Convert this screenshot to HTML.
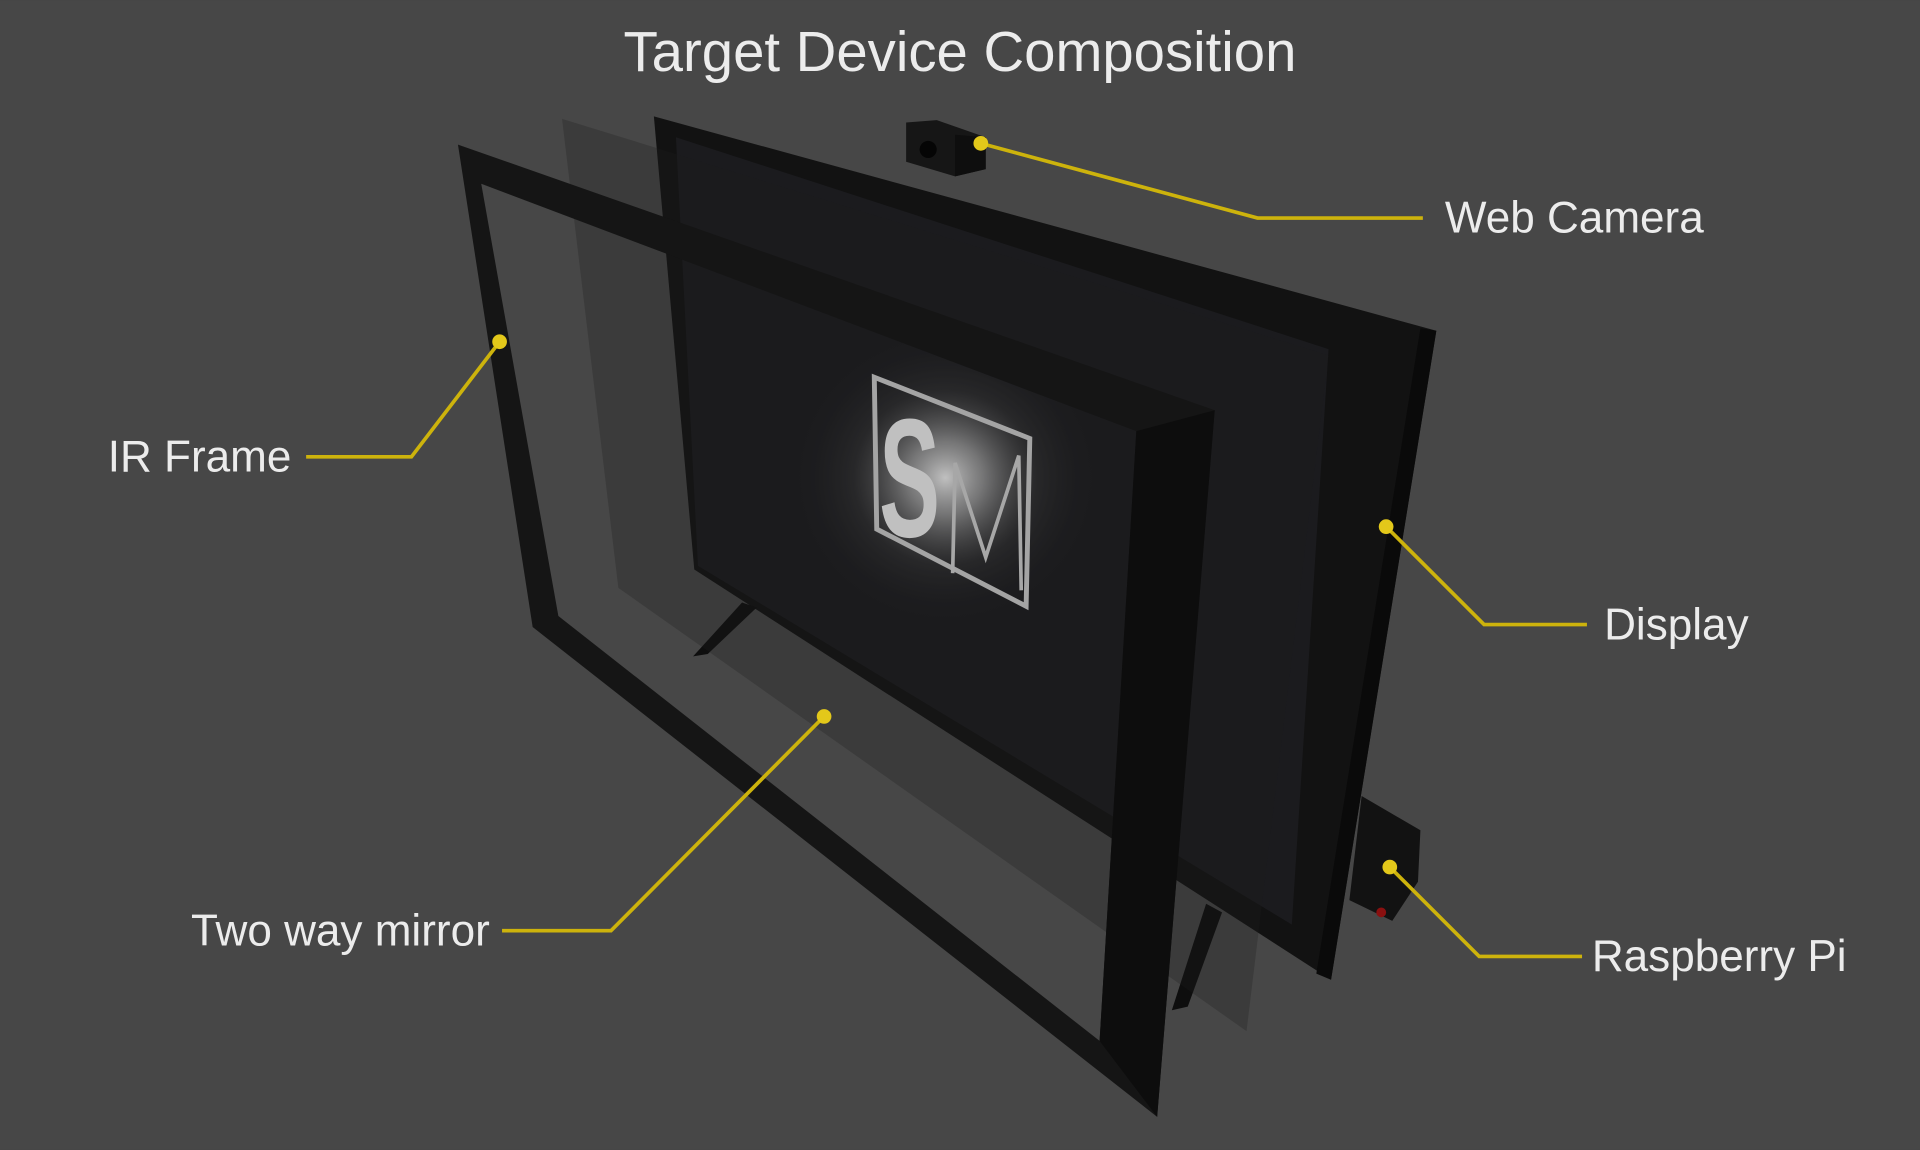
<!DOCTYPE html>
<html><head><meta charset="utf-8"><style>
html,body{margin:0;padding:0;background:#474747;}
svg{display:block;}
text{font-family:"Liberation Sans",sans-serif;fill:#ececec;}
</style></head><body>
<svg width="1920" height="1150" viewBox="0 0 1568 939" xmlns="http://www.w3.org/2000/svg">
<defs>
<radialGradient id="glow" cx="0.5" cy="0.5" r="0.5">
<stop offset="0" stop-color="#ffffff" stop-opacity="1"/>
<stop offset="0.25" stop-color="#cccccc" stop-opacity="0.7"/>
<stop offset="0.6" stop-color="#555" stop-opacity="0.3"/>
<stop offset="1" stop-color="#1d1d20" stop-opacity="0"/>
</radialGradient>
</defs>
<rect width="1568" height="939" fill="#474747"/>
<text x="784" y="58" font-size="46" text-anchor="middle">Target Device Composition</text>

<g>
<polygon points="534,95 1173,270 1087,800 567,465" fill="#121212"/>
<polygon points="552,112 1085,285 1055,755 570,462" fill="#1b1b1e"/>
<polygon points="1173,270 1160,268 1075,795 1087,800" fill="#0a0a0a"/>
<ellipse cx="772" cy="390" rx="125" ry="120" fill="url(#glow)"/>
</g>
<polygon points="606,492 618,496 578,534 566,536" fill="#0e0e0e"/>
<polygon points="985,738 998,745 970,822 957,825" fill="#0e0e0e"/>
<g>
<polygon points="714,308 841,358 838,495 716,432" fill="none" stroke="#d8d8d8" stroke-width="4"/>
<text x="0" y="0" font-size="120" font-weight="bold" style="fill:#ffffff" transform="translate(718,438) scale(0.62,1.15)">S</text>
<polyline points="778,468 780,378 805,455 832,372 834,482" fill="none" stroke="#dddddd" stroke-width="3"/>
</g>
<polygon points="459,97 1085,290 1018,842 505,480" fill="#1e1e1e" fill-opacity="0.28"/>
<path fill-rule="evenodd" fill="#151515" d="M374,118 L992,335 L945,912 L435,512 Z M393,150 L928,352 L898,850 L456,503 Z"/>
<polygon points="928,352 992,335 945,912 898,850" fill="#0d0d0d"/>
<g>
<polygon points="740,100 765,98 805,112 805,138 780,144 740,132" fill="#161616"/>
<polygon points="780,110 805,112 805,138 780,144" fill="#0e0e0e"/>
<circle cx="758" cy="122" r="7" fill="#050505"/>
</g>
<g>
<polygon points="1112,650 1160,678 1158,720 1137,752 1102,735" fill="#121212"/>
<circle cx="1128" cy="745" r="4" fill="#8a1010"/>
</g>

<g stroke="#cdb30c" stroke-width="3" fill="none">
<polyline points="801,117 1027,178 1162,178"/>
<polyline points="408,279 336,373 250,373"/>
<polyline points="1132,430 1212,510 1296,510"/>
<polyline points="673,585 499,760 410,760"/>
<polyline points="1135,708 1208,781 1292,781"/>
</g>
<g fill="#e3c81a">
<circle cx="801" cy="117" r="6"/>
<circle cx="408" cy="279" r="6"/>
<circle cx="1132" cy="430" r="6"/>
<circle cx="673" cy="585" r="6"/>
<circle cx="1135" cy="708" r="6"/>
</g>
<text x="1180" y="190" font-size="36">Web Camera</text>
<text x="238" y="385" font-size="36" text-anchor="end">IR Frame</text>
<text x="1310" y="522" font-size="36">Display</text>
<text x="400" y="772" font-size="36" text-anchor="end">Two way mirror</text>
<text x="1300" y="793" font-size="36">Raspberry Pi</text>
</svg>
</body></html>
